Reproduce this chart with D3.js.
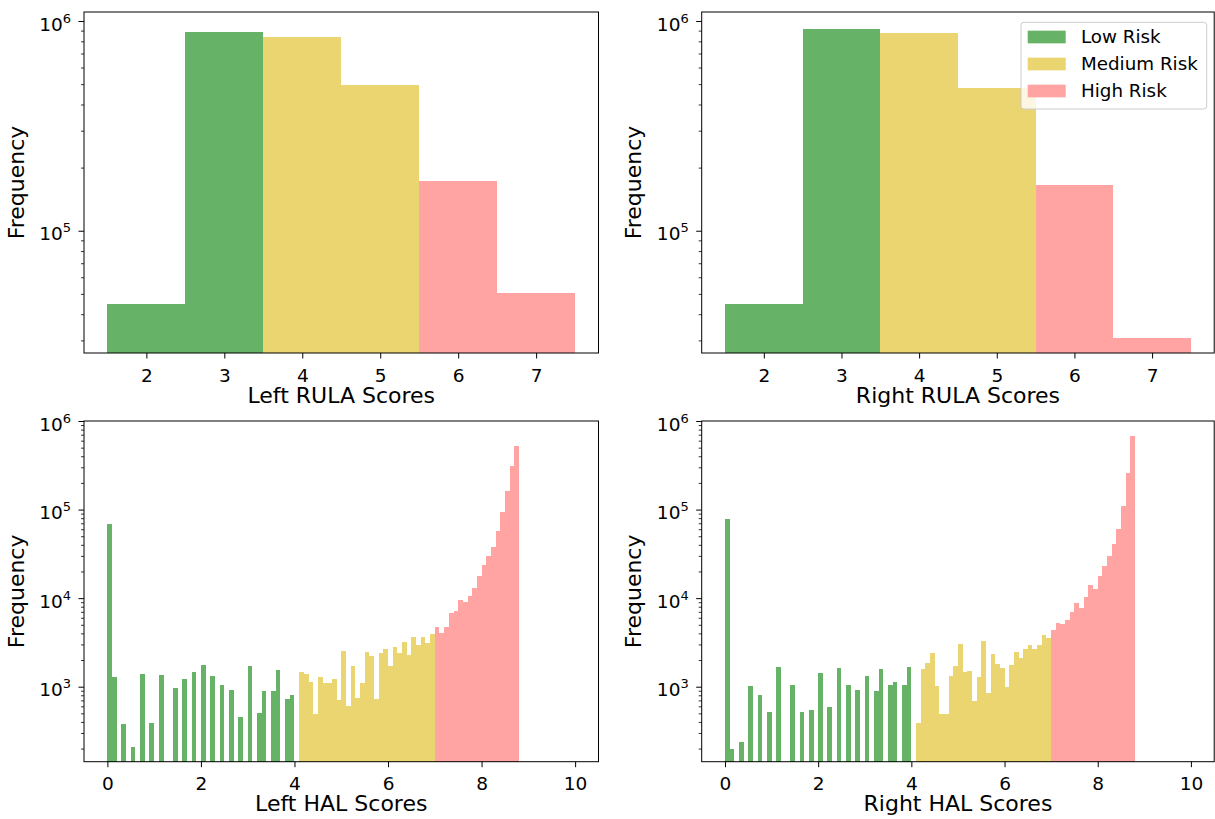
<!DOCTYPE html>
<html>
<head>
<meta charset="utf-8">
<script src="https://cdn.jsdelivr.net/npm/d3@7"></script>
<style>
  body { margin: 0; background: #fff; }
  svg text { font-family: "DejaVu Sans", sans-serif; fill: #000; }
</style>
</head>
<body>
<div id="chart"></div>
<script>
// ---- data ----
var rulaScores = [2, 3, 4, 5, 6, 7];
var rulaRisk = [0, 0, 1, 1, 2, 2];            // index into riskNames
var leftRulaCounts = [44900, 887000, 839000, 495000, 173000, 50700];
var rightRulaCounts = [44900, 916000, 877000, 480000, 166000, 30900];

// HAL histograms: bins of 0.1 starting at 0 (0 = empty bin)
var halBinWidth = 0.1;
var halMediumFrom = 4.1, halHighFrom = 7.0;
var leftHalCounts = [
  69500, 1290, 0, 378, 0, 208, 0, 1393, 0, 388,
  0, 1358, 0, 0, 966, 0, 1221, 0, 1466, 0,
  1762, 0, 1322, 0, 1045, 0, 916, 0, 453, 0,
  1718, 0, 503, 893, 0, 893, 1545, 0, 726, 806,
  0, 1466, 1393, 1130, 491, 1290, 1101, 1101, 1221, 707,
  2535, 604, 1718, 745, 1101, 2472, 2228, 726, 2410, 2673,
  1718, 2818, 2410, 3206, 2286, 3655, 2966, 3655, 3126, 3952,
  4745, 4055, 4745, 6825, 7194, 9591, 9103, 10640, 13120, 17950,
  23900, 30200, 38200, 57900, 92700, 160000, 307000, 518000
];
var rightHalCounts = [
  79200, 197, 0, 236, 0, 1019, 0, 806, 0, 518,
  0, 1672, 0, 0, 1045, 0, 518, 0, 544, 0,
  1429, 0, 589, 0, 1630, 0, 1045, 0, 916, 0,
  1322, 0, 893, 1585, 0, 1045, 1130, 0, 1045, 1672,
  0, 388, 1585, 1854, 2410, 1019, 491, 491, 1322, 1718,
  3040, 1466, 1505, 689, 1290, 3290, 849, 2347, 1807, 1630,
  993, 1762, 2472, 2113, 2673, 2966, 2673, 2966, 3846, 3556,
  4385, 5260, 5130, 5690, 7010, 8870, 7790, 10380, 14190, 12770,
  17950, 23300, 30200, 41300, 59600, 111000, 256000, 673000
];

var riskNames = ["Low Risk", "Medium Risk", "High Risk"];
var riskColors = ["#66b266", "#ebd570", "#ffa3a3"];

var rulaTicks = [2, 3, 4, 5, 6, 7];
var halTicks = [0, 2, 4, 6, 8, 10];
var rulaXDomain = [1.2, 7.8];
var halXDomain = [-0.5, 10.5];
var rulaYDomain = [Math.pow(10, 4.417), Math.pow(10, 6.043)];
var halYDomain = [Math.pow(10, 2.153), 1e6];

// ---- build bins ----
function rulaBins(counts) {
  return counts.map(function (c, i) {
    return { x0: rulaScores[i] - 0.5, x1: rulaScores[i] + 0.5, count: c, risk: rulaRisk[i] };
  });
}
function halBins(counts) {
  return counts.map(function (c, i) {
    var x0 = i * halBinWidth;
    var risk = x0 >= halHighFrom - 1e-9 ? 2 : (x0 >= halMediumFrom - 1e-9 ? 1 : 0);
    return { x0: x0, x1: x0 + halBinWidth, count: c, risk: risk };
  });
}

var svg = d3.select("#chart").append("svg")
  .attr("width", 1215)
  .attr("height", 819);

function drawPanel(cfg) {
  var g = svg.append("g")
    .attr("transform", "translate(" + cfg.left + "," + cfg.top + ")");

  var x = d3.scaleLinear().domain(cfg.xDomain).range([0, cfg.width]);
  var y = d3.scaleLog().domain(cfg.yDomain).range([cfg.height, 0]);

  // bars
  g.selectAll(".bar")
    .data(cfg.bins.filter(function (d) { return d.count > 0; }))
    .enter().append("rect")
    .attr("class", "bar")
    .attr("x", function (d) { return x(d.x0); })
    .attr("width", function (d) { return x(d.x1) - x(d.x0); })
    .attr("y", function (d) { return y(d.count); })
    .attr("height", function (d) { return cfg.height - y(d.count); })
    .attr("fill", function (d) { return riskColors[d.risk]; })
    .attr("shape-rendering", "crispEdges");

  // x axis
  var xAxis = g.append("g")
    .attr("transform", "translate(0," + cfg.height + ")")
    .call(d3.axisBottom(x).tickValues(cfg.xTicks).tickSize(5.5).tickFormat(d3.format("d")))
    .attr("font-size", 18.5)
    .attr("font-family", "DejaVu Sans");
  xAxis.select(".domain").remove();
  xAxis.selectAll("line").attr("stroke-width", 1);
  xAxis.selectAll("text").attr("y", 28.7).attr("dy", null);

  // y axis: minor and major log ticks
  var allTicks = y.ticks();
  var majors = allTicks.filter(function (d) { return Math.abs(Math.log10(d) - Math.round(Math.log10(d))) < 1e-9; });
  var minors = allTicks.filter(function (d) { return majors.indexOf(d) < 0; });

  var yMinor = g.append("g")
    .call(d3.axisLeft(y).tickValues(minors).tickSize(3).tickFormat(""));
  yMinor.select(".domain").remove();
  yMinor.selectAll("line").attr("stroke-width", 0.8);

  var yMajor = g.append("g")
    .call(d3.axisLeft(y).tickValues(majors).tickSize(5.5).tickPadding(7.5).tickFormat(""))
    .attr("font-size", 18.5)
    .attr("font-family", "DejaVu Sans");
  yMajor.select(".domain").remove();
  yMajor.selectAll("line").attr("stroke-width", 1);
  yMajor.selectAll("text")
    .attr("dy", 9)
    .each(function (d) {
      var t = d3.select(this);
      t.append("tspan").text("10");
      t.append("tspan").attr("dy", -8).attr("font-size", 13).text(Math.round(Math.log10(d)));
    });

  // frame
  g.append("rect")
    .attr("width", cfg.width)
    .attr("height", cfg.height)
    .attr("fill", "none")
    .attr("stroke", "#000")
    .attr("stroke-width", 1);

  // axis labels
  g.append("text")
    .attr("x", cfg.width / 2)
    .attr("y", cfg.height + 49.5)
    .attr("text-anchor", "middle")
    .style("font-size", "22px")
    .text(cfg.xLabel);

  g.append("text")
    .attr("transform", "translate(-60.5," + (cfg.height / 2) + ") rotate(-90)")
    .attr("text-anchor", "middle")
    .style("font-size", "22px")
    .text("Frequency");

  // legend
  if (cfg.legend) {
    var lg = g.append("g").attr("transform", "translate(319.3,10.3)");
    lg.append("rect")
      .attr("width", 185.7)
      .attr("height", 86.7)
      .attr("rx", 3)
      .attr("fill", "#fff")
      .attr("fill-opacity", 0.8)
      .attr("stroke", "#cccccc")
      .attr("stroke-width", 1);
    var items = lg.selectAll(".item")
      .data(riskNames)
      .enter().append("g")
      .attr("transform", function (d, i) { return "translate(0," + (14.7 + i * 27) + ")"; });
    items.append("rect")
      .attr("x", 6.7)
      .attr("y", -6.35)
      .attr("width", 38)
      .attr("height", 12.7)
      .attr("fill", function (d, i) { return riskColors[i]; });
    items.append("text")
      .attr("x", 60)
      .attr("y", 6.3)
      .style("font-size", "18.3px")
      .text(function (d) { return d; });
  }
}

drawPanel({ left: 84, top: 12, width: 514.5, height: 341, xDomain: rulaXDomain, yDomain: rulaYDomain,
  xTicks: rulaTicks, bins: rulaBins(leftRulaCounts), xLabel: "Left RULA Scores" });
drawPanel({ left: 701.7, top: 12, width: 512.5, height: 341, xDomain: rulaXDomain, yDomain: rulaYDomain,
  xTicks: rulaTicks, bins: rulaBins(rightRulaCounts), xLabel: "Right RULA Scores", legend: true });
drawPanel({ left: 84, top: 421, width: 514.5, height: 340.7, xDomain: halXDomain, yDomain: halYDomain,
  xTicks: halTicks, bins: halBins(leftHalCounts), xLabel: "Left HAL Scores" });
drawPanel({ left: 701.7, top: 421, width: 512.5, height: 340.7, xDomain: halXDomain, yDomain: halYDomain,
  xTicks: halTicks, bins: halBins(rightHalCounts), xLabel: "Right HAL Scores" });
</script>
</body>
</html>
